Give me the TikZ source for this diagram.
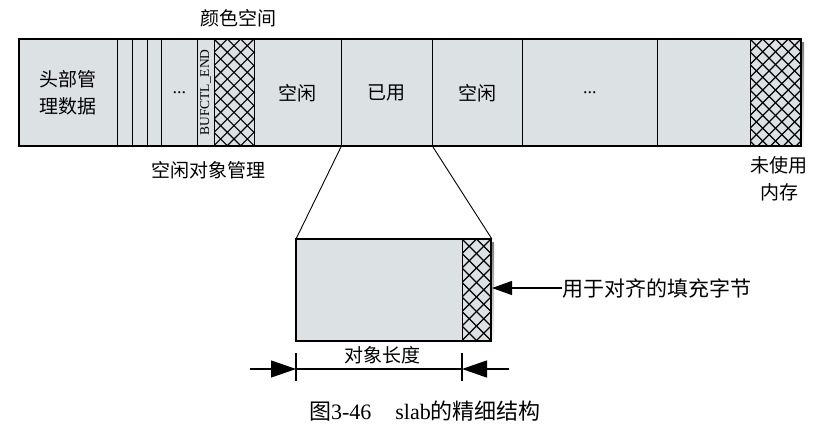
\documentclass[tikz,border=0pt]{standalone}
\usepackage{fontspec}
\setmainfont{Liberation Serif}
\newfontfamily\cjk{Noto Sans CJK SC}
\usetikzlibrary{arrows.meta}
\definecolor{cellfill}{HTML}{DCE2E4}
\definecolor{shade}{HTML}{858585}
\newcommand\myhatch[5]{%
  \begin{scope}
    \clip (#1,#2) rectangle (#3,#4);
    \foreach \k in {-10,...,14}{
      \draw[line width=1.1pt] ({#1+\k*#5},#2) -- ++(130,130);
      \draw[line width=1.1pt] ({#1+\k*#5},#2) -- ++(-130,130);
    }
  \end{scope}}
\begin{document}
\begin{tikzpicture}[x=1pt,y=-1pt,
  cell/.style={draw=black,line width=0.9pt,fill=cellfill,minimum height=107pt,inner sep=0pt,anchor=north west},
  ocell/.style={draw=black,line width=0.9pt,fill=cellfill,minimum height=102pt,inner sep=0pt,anchor=north west},
  lbl/.style={font=\cjk\fontsize{19}{27}\selectfont,align=center,inner sep=0pt},
  conn/.style={line width=0.9pt},
  dimarrow/.style={line width=1.2pt,-{Triangle[length=25pt,width=17pt]}}
  ]
\useasboundingbox (0,0) rectangle (826,429);
% shadows
\fill[shade] (22,42) rectangle (804,149);
\fill[shade] (299,242) rectangle (494,344);
% top bar
\node[cell,minimum width=98pt] (head) at (19,39) {};
\node[cell,minimum width=15pt] (s1) at (117,39) {};
\node[cell,minimum width=15pt] (s2) at (132,39) {};
\node[cell,minimum width=14pt] (s3) at (147,39) {};
\node[cell,minimum width=36pt] (dots) at (161,39) {};
\node[cell,minimum width=17pt] (buf) at (197,39) {};
\node[cell,minimum width=40pt] (hatch1) at (214,39) {};
\node[cell,minimum width=87pt] (free1) at (254,39) {};
\node[cell,minimum width=91pt] (used) at (341,39) {};
\node[cell,minimum width=90pt] (free2) at (432,39) {};
\node[cell,minimum width=135pt] (dots2) at (522,39) {};
\node[cell,minimum width=93pt] (empty) at (657,39) {};
\node[cell,minimum width=51pt] (hatch2) at (750,39) {};
\myhatch{214}{39}{254}{146}{13.33}
\myhatch{750}{39}{801}{146}{12.75}
\draw[line width=1.3pt] (19,39) rectangle (801,146);
\draw[line width=1pt] (214,39) -- (214,146) (254,39) -- (254,146) (750,39) -- (750,146);
% texts in top bar
\node[lbl] (headt) at (head.center) {头部管\\理数据};
\node[inner sep=0pt,font=\fontsize{18}{18}\selectfont] (dotst) at (dots.center) {...};
\node[inner sep=0pt,rotate=90,font=\fontsize{13.5}{13.5}\selectfont] (buft) at (205.5,92.5) {BUFCTL\_END};
\node[lbl] (free1t) at (free1.center) {空闲};
\node[lbl] (usedt) at (used.center) {已用};
\node[lbl] (free2t) at (free2.center) {空闲};
\node[inner sep=0pt,font=\fontsize{18}{18}\selectfont] (dots2t) at (dots2.center) {...};
% outside labels
\node[lbl] (color) at (238,18) {颜色空间};
\node[lbl] (freemgmt) at (208,170) {空闲对象管理};
\node[lbl] (unused) at (779,179) {未使用\\内存};
% lower box
\node[ocell,minimum width=166pt] (obj) at (296,239) {};
\node[ocell,minimum width=29pt] (pad) at (462,239) {};
\myhatch{462}{239}{491}{341}{14.5}
\draw[line width=1.3pt] (296,239) rectangle (491,341);
\draw[line width=1pt] (462,239) -- (462,341);
% zoom lines
\draw[conn] (used.south west) -- (obj.north west);
\draw[conn] (used.south east) -- (pad.north east);
% padding label and arrow
\node[lbl,anchor=west,font=\cjk\fontsize{21}{21}\selectfont] (padt) at (562,288) {用于对齐的填充字节};
\coordinate (padtip) at (492,288);
\draw[line width=1.2pt,-{Triangle[length=20pt,width=14pt]}] (padt.west) -- (padtip);
% dimension
\coordinate (tl1) at (296,353);
\coordinate (tl2) at (296,381);
\coordinate (tr1) at (462,353);
\coordinate (tr2) at (462,381);
\draw[line width=1.2pt] (tl1) -- (tl2);
\draw[line width=1.2pt] (tr1) -- (tr2);
\coordinate (dl) at (250,369);
\coordinate (dml) at (296,369);
\coordinate (dmr) at (462,369);
\coordinate (dr) at (509,369);
\draw[dimarrow] (dl) -- (dml);
\draw[line width=1.2pt] (dml) -- (dmr);
\draw[dimarrow] (dr) -- (dmr);
\node[lbl] (objlen) at (382,355) {对象长度};
% caption
\node[inner sep=0pt,font=\fontsize{22}{22}\selectfont] (caption) at (425,411) {{\cjk 图}3-46\hspace{24pt}slab{\cjk 的精细结构}};
\end{tikzpicture}
\end{document}
